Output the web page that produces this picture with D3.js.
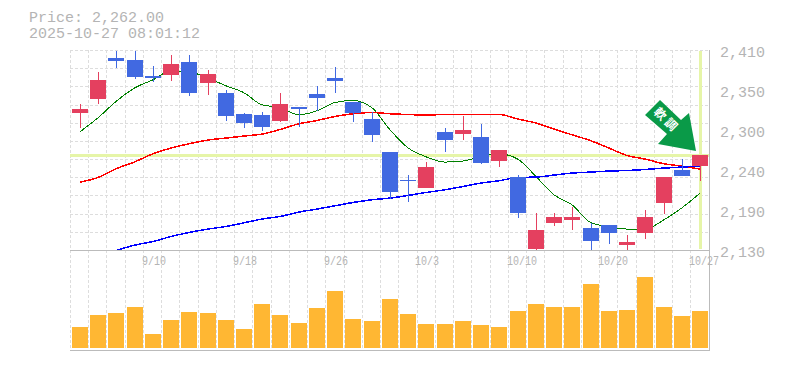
<!DOCTYPE html>
<html>
<head>
<meta charset="utf-8">
<script src="https://cdn.jsdelivr.net/npm/d3@7"></script>
<style>
  html, body { margin: 0; padding: 0; background: #fff; }
  svg { display: block; }
  text { font-family: "Liberation Mono", monospace; fill: #b4b4b4; }
</style>
</head>
<body>
<svg id="chart" width="785" height="370"></svg>
<script>
const priceLabel = "Price: 2,262.00";
const timeLabel = "2025-10-27 08:01:12";
const lastPrice = 2262;

// one entry per trading day
const days = d3.range(35);
const dateTicks = [[4, "9/10"], [9, "9/18"], [14, "9/26"], [19, "10/3"], [24, "10/10"], [29, "10/20"], [34, "10/27"]];
const priceTicks = [2410, 2350, 2300, 2240, 2190, 2130];

const opens = [2322.8,2342.4,2399.8,2397,2374.6,2376,2394.2,2364.8,2350.8,2321.4,2320,2311.6,2331.2,2349.4,2371.8,2338.2,2314.4,2268.2,2229,2217.8,2296.2,2293.4,2289.2,2255.6,2233.2,2132.4,2168.8,2173,2161.8,2166,2138,2154.8,2196.8,2243,2248.6];
const highs = [2335.4,2380.2,2410,2410,2388.6,2404,2404,2383,2355,2322.8,2324.2,2350.8,2331.2,2360.6,2387.2,2338.2,2324.2,2268.2,2236,2254.2,2301.8,2318.6,2307.4,2271,2236,2182.8,2182.8,2191.2,2168.8,2166,2152,2187,2233.2,2258.4,2264];
const lows = [2301.8,2335.4,2385.8,2370.4,2366.2,2367.6,2346.6,2348,2311.6,2301.8,2297.6,2310.2,2303.2,2325.6,2350.8,2310.2,2282.2,2202.4,2198.2,2217.8,2268.2,2285,2251.4,2247.2,2175.8,2131,2164.6,2159,2130,2139.4,2130,2146.4,2181.4,2234.6,2227.6];
const closes = [2328.4,2369,2395.6,2373.2,2371.8,2391.4,2350.8,2377.4,2318.6,2308.8,2303.2,2335.4,2328.4,2343.8,2367.6,2322.8,2292,2212.2,2227.6,2247.2,2285,2299,2252.8,2271,2182.8,2159,2177.2,2177.2,2143.6,2154.8,2142.2,2177.2,2233.2,2234.6,2264];

const maShort = [2296.2,2315.8,2338.6,2357.8,2369,2381.6,2380.2,2371.4,2360.6,2350.8,2334,2330.2,2320,2325.6,2337.2,2340,2329.8,2299,2273.8,2261.2,2253.8,2255.2,2261.6,2265.4,2257.7,2233.6,2208,2194,2168.8,2163.6,2160,2160,2173,2189.8,2210.4];
const maMid = [2225.8,2232.2,2244.4,2254.2,2265.4,2273.4,2279.4,2284.6,2287.4,2290.2,2293,2299.4,2307.4,2312,2317.6,2321.4,2323.2,2321.4,2320.4,2319.6,2320.4,2320.4,2320.4,2320.4,2314,2308.4,2300,2292,2283.6,2273.4,2263,2258,2251.4,2248.2,2244];
const maLong = [null,null,2130,2137.6,2142.6,2149.6,2155.2,2160,2163.6,2168.8,2174,2177.6,2183.8,2188,2192.6,2197.2,2201,2203.4,2207,2211.2,2215,2219.6,2224.4,2227.6,2232.2,2232.8,2235.6,2238.4,2239.8,2241.2,2242,2243.4,2245.4,2246.8,2248.2];

const volumes = [21,33,35,41,14,28,36,35,28,19,44,33,25,40,57,29,27,49,34,24,24,27,23,21,37,44,41,41,64,37,38,71,41,32,37];

const svg = d3.select("#chart");

const x = d3.scaleBand().domain(days).range([70.5, 709]).paddingInner(0);
const y = d3.scaleLinear().domain([2130, 2410]).range([250.5, 50.5]);
const yVol = d3.scaleLinear().domain([0, 71]).range([348, 277]);
// the printed price labels sit evenly spaced down the panel
const yTick = d3.scalePoint().domain(priceTicks).range([50, 250]);
const grid = { color: "#ddd", dash: "3,2" };
const plotLeft = 70, plotRight = 710, plotTop = 50, plotMid = 250, plotBottom = 350;
const barW = 16;
const barX = i => Math.round(x(i) + 1.3);
const midX = i => barX(i) + barW / 2;

// header
svg.append("text").attr("x", 29).attr("y", 22).attr("font-size", 15).text(priceLabel);
svg.append("text").attr("x", 29).attr("y", 38).attr("font-size", 15).text(timeLabel);

// grid
const hLines = d3.range(12).map(i => plotTop + Math.round(i * 200 / 11));
svg.append("g").attr("shape-rendering", "crispEdges").selectAll("line").data(hLines).enter().append("line")
  .attr("x1", plotLeft).attr("x2", plotRight)
  .attr("y1", d => d + 0.5).attr("y2", d => d + 0.5)
  .attr("stroke", grid.color).attr("stroke-dasharray", grid.dash);
svg.append("g").attr("shape-rendering", "crispEdges").selectAll("line").data(days).enter().append("line")
  .attr("x1", d => Math.floor(x(d)) + 0.5).attr("x2", d => Math.floor(x(d)) + 0.5)
  .attr("y1", plotTop).attr("y2", plotBottom)
  .attr("stroke", grid.color).attr("stroke-dasharray", grid.dash);

// last price guide lines
svg.append("rect").attr("x", plotLeft).attr("width", plotRight - plotLeft)
  .attr("y", Math.floor(y(lastPrice)) - 2).attr("height", 3).attr("fill", "#e6f5a8");
svg.append("rect").attr("x", midX(34) - 1).attr("width", 3)
  .attr("y", plotTop + 1).attr("height", plotMid - plotTop - 2).attr("fill", "#e6f5a8");

// moving averages
const line = d3.line().defined(d => d != null).x((d, i) => midX(i)).y(d => y(d)).curve(d3.curveMonotoneX);
[[maShort, "#008000"], [maMid, "#ff0000"], [maLong, "#0000ff"]].forEach(([vals, col]) => {
  svg.append("path").attr("d", line(vals)).attr("fill", "none").attr("stroke", col)
    .attr("stroke-width", col == "#008000" ? 1 : 1.5).attr("shape-rendering", "crispEdges");
});

// candles
const candle = svg.append("g").attr("shape-rendering", "crispEdges").selectAll("g").data(days).enter().append("g")
  .attr("fill", d => closes[d] >= opens[d] ? "#e4405f" : "#4169e1");
candle.append("rect")
  .attr("x", d => midX(d)).attr("width", 1)
  .attr("y", d => Math.round(y(highs[d])))
  .attr("height", d => Math.round(y(lows[d])) - Math.round(y(highs[d])));
candle.append("rect")
  .attr("x", d => barX(d)).attr("width", barW)
  .attr("y", d => Math.round(y(Math.max(opens[d], closes[d]))))
  .attr("height", d => Math.max(1, Math.round(y(Math.min(opens[d], closes[d]))) - Math.round(y(Math.max(opens[d], closes[d])))));

// volume
svg.append("g").attr("shape-rendering", "crispEdges").selectAll("rect").data(days).enter().append("rect")
  .attr("x", d => barX(d)).attr("width", barW)
  .attr("y", d => yVol(volumes[d])).attr("height", d => yVol(0) - yVol(volumes[d]))
  .attr("fill", "#ffb733");

// frame
const frame = svg.append("g").attr("stroke", "#bbb").attr("shape-rendering", "crispEdges");
frame.append("line").attr("x1", plotLeft).attr("x2", plotRight).attr("y1", plotMid + 0.5).attr("y2", plotMid + 0.5);
frame.append("line").attr("x1", plotLeft).attr("x2", plotRight).attr("y1", plotBottom + 0.5).attr("y2", plotBottom + 0.5);
frame.append("line").attr("x1", plotRight - 0.5).attr("x2", plotRight - 0.5).attr("y1", plotTop).attr("y2", plotBottom + 1);

// axis labels
svg.append("g").selectAll("text").data(priceTicks).enter().append("text")
  .attr("x", 720).attr("y", d => yTick(d) + 7).attr("font-size", 15)
  .text(d3.format(","));
svg.append("g").selectAll("text").data(dateTicks).enter().append("text")
  .attr("x", d => midX(d[0]) - 11).attr("y", 265).attr("font-size", 13)
  .attr("textLength", d => d[1].length * 6).attr("lengthAdjust", "spacingAndGlyphs")
  .text(d => d[1]);

// signal arrow
const arrow = svg.append("g");
arrow.append("polygon").attr("fill", "#0a9a48")
  .attr("points", "660,100 645,115 667,134 658,144 696,151 689,113 681,120");
arrow.append("text").attr("transform", "translate(666,121) rotate(45)")
  .attr("text-anchor", "middle").attr("dominant-baseline", "middle")
  .attr("font-size", 12).attr("font-weight", "bold").attr("letter-spacing", 3)
  .style("font-family", '"Noto Sans CJK JP"').style("fill", "#fff")
  .text("軟調");
</script>
</body>
</html>
